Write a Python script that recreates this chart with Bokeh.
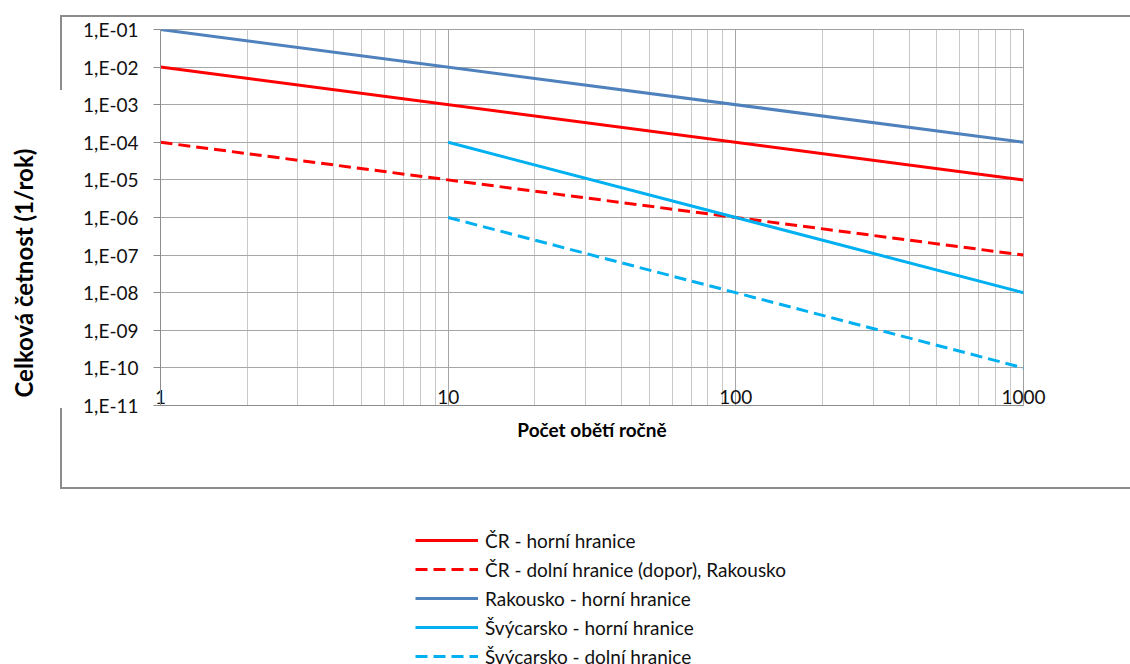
import math
from bokeh.plotting import figure
from bokeh.layouts import column
from bokeh.models import (FixedTicker, CustomJSTickFormatter, Title, LogAxis,
                          Legend, LegendItem, Range1d)
from bokeh.embed import file_html
from bokeh.resources import INLINE

# ---------------- data ----------------
cr_upper_x = [1, 1000]
cr_upper_y = [1e-2, 1e-5]
cr_lower_x = [1, 1000]
cr_lower_y = [1e-4, 1e-7]
at_upper_x = [1, 1000]
at_upper_y = [1e-1, 1e-4]
ch_upper_x = [10, 1000]
ch_upper_y = [1e-4, 1e-8]
ch_lower_x = [10, 1000]
ch_lower_y = [1e-6, 1e-10]

series_names = [
    "ČR - horní hranice",
    "ČR - dolní hranice (dopor), Rakousko",
    "Rakousko - horní hranice",
    "Švýcarsko - horní hranice",
    "Švýcarsko - dolní hranice",
]

x_ticks = [1, 10, 100, 1000]
x_tick_labels = ["1", "10", "100", "1000"]
x_minor_ticks = [2, 3, 4, 5, 6, 7, 8, 9, 20, 30, 40, 50, 60, 70, 80, 90,
                 200, 300, 400, 500, 600, 700, 800, 900]
y_ticks = [1e-11, 1e-10, 1e-9, 1e-8, 1e-7, 1e-6, 1e-5, 1e-4, 1e-3, 1e-2, 1e-1]
y_tick_labels = ["1,E-11", "1,E-10", "1,E-09", "1,E-08", "1,E-07", "1,E-06",
                 "1,E-05", "1,E-04", "1,E-03", "1,E-02", "1,E-01"]

x_title = "Počet obětí ročně"
y_title = "Celková četnost (1/rok)"

# ---------------- main chart ----------------
FONT = "Lato"
W, H = 1130, 490
FL, FT, FR, FB = 160, 29, 1023, 405   # frame edges in canvas px

p = figure(width=W, height=H, x_axis_type="log", y_axis_type="log",
           x_range=Range1d(1, 1000), y_range=Range1d(1e-11, 1e-1),
           output_backend="svg", toolbar_location=None,
           min_border_left=FL, min_border_top=FT,
           min_border_right=W - FR, min_border_bottom=H - FB)
p.background_fill_color = "white"
p.border_fill_color = "white"
p.outline_line_color = "#a0a0a0"
p.outline_line_width = 1

# outer chart-area border (Excel style), drawn as page decoration
GRAY = "#8c8c8c"
p.stylesheets = [f"""
:host::before {{ content: ""; position: absolute; left: 60px; top: 15px; width: 2px; height: 474px;
  background: linear-gradient(to bottom, {GRAY} 0px, {GRAY} 75px, transparent 75px,
  transparent 393px, {GRAY} 393px, {GRAY} 474px); pointer-events: none; z-index: 5; }}
:host::after {{ content: ""; position: absolute; left: 60px; top: 15px; width: 1070px; height: 474px;
  box-sizing: border-box; border-top: 2px solid {GRAY}; border-bottom: 2px solid {GRAY};
  pointer-events: none; z-index: 5; }}
"""]

# grids
p.xaxis.ticker = FixedTicker(ticks=x_ticks, minor_ticks=x_minor_ticks)
p.yaxis.ticker = FixedTicker(ticks=y_ticks, minor_ticks=[])
p.xgrid.grid_line_color = "#a6a6a6"
p.xgrid.minor_grid_line_color = "#c8c8c8"
p.ygrid.grid_line_color = "#a6a6a6"
p.ygrid.minor_grid_line_color = None

# axes
for ax in (p.xaxis[0], p.yaxis[0]):
    ax.axis_line_color = "#8c8c8c"
    ax.major_tick_line_color = "#8c8c8c"
    ax.minor_tick_line_color = None
    ax.major_tick_in = 0
    ax.major_label_text_font = FONT
    ax.major_label_text_color = "#111111"
    ax.major_label_text_font_size = "19px"

JS_LOOKUP = """
    const e = Math.round(Math.log10(tick));
    for (let i = 0; i < tv.length; i++) {
        if (Math.round(Math.log10(tv[i])) == e) return tl[i];
    }
    return "";
"""
p.yaxis.major_tick_out = 7
p.yaxis.major_label_standoff = 15
p.yaxis.formatter = CustomJSTickFormatter(args=dict(tv=y_ticks, tl=y_tick_labels), code=JS_LOOKUP)
p.xaxis.formatter = CustomJSTickFormatter(args=dict(tv=x_ticks, tl=x_tick_labels), code=JS_LOOKUP)
p.xaxis.major_tick_out = 0
p.xaxis.major_label_standoff = -20      # Excel draws these just above the axis line
p.xaxis.axis_label = x_title
p.xaxis.axis_label_standoff = 11
p.xaxis.axis_label_text_font = FONT
p.xaxis.axis_label_text_font_style = "bold"
p.xaxis.axis_label_text_font_size = "19px"
p.xaxis.axis_label_text_color = "#000000"

# invisible spacer axis so the vertical title sits near the left edge
spacer = LogAxis(ticker=FixedTicker(ticks=[y_ticks[0]], minor_ticks=[]),
                 formatter=CustomJSTickFormatter(code="return '';"),
                 axis_line_color=None, major_tick_line_color="white",
                 minor_tick_line_color=None, major_tick_in=0, major_tick_out=38,
                 major_label_standoff=0, major_label_text_font_size="1px",
                 major_label_text_color="white")
p.add_layout(spacer, "left")
p.add_layout(Title(text=y_title, align="left", offset=8, text_font=FONT,
                   text_font_style="bold", text_font_size="24px",
                   text_color="#000000"), "left")

RED, STEEL, SKY = "#ff0000", "#4f81bd", "#00b0f0"
styles = [dict(line_color=RED), dict(line_color=RED, line_dash="12 6"),
          dict(line_color=STEEL), dict(line_color=SKY), dict(line_color=SKY, line_dash="12 6")]
series = [(cr_upper_x, cr_upper_y), (cr_lower_x, cr_lower_y), (at_upper_x, at_upper_y),
          (ch_upper_x, ch_upper_y), (ch_lower_x, ch_lower_y)]
for (xs, ys), st in zip(series, styles):
    p.line(xs, ys, line_width=3, **st)

# ---------------- legend strip below the chart ----------------
LH = 664 - H
q = figure(width=W, height=LH, x_range=Range1d(-10, -5), y_range=Range1d(-10, -5),
           output_backend="svg", toolbar_location=None,
           x_axis_location=None, y_axis_location=None,
           min_border=0, min_border_left=0, min_border_right=0,
           min_border_top=0, min_border_bottom=0)
q.grid.visible = False
q.outline_line_color = None
q.background_fill_color = "white"
q.border_fill_color = "white"
leg_renderers = [q.line(xs, ys, line_width=3, **st) for (xs, ys), st in zip(series, styles)]

legend = Legend(items=[LegendItem(label=n, renderers=[r]) for n, r in
                       zip(series_names, leg_renderers)],
                location=(255, -5), orientation="vertical",
                glyph_width=63, glyph_height=26, spacing=3, label_standoff=7,
                padding=0, margin=0, border_line_color=None, background_fill_alpha=0,
                label_text_font=FONT, label_text_font_size="19px",
                label_text_color="#111111", label_height=26)
q.add_layout(legend)

open("out.html", "w").write(file_html(column(p, q, spacing=0), INLINE))
